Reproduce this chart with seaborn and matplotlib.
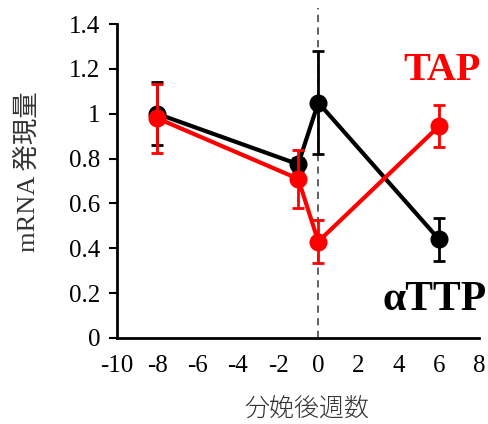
import matplotlib
matplotlib.use("Agg")
import matplotlib.pyplot as plt
import seaborn as sns
import pandas as pd

# weeks relative to calving
weeks = [-8, -1, 0, 6]

# aTTP (black)
ttp_mean = [1.00, 0.775, 1.05, 0.44]
ttp_err = [0.14, 0.03, 0.23, 0.095]

# TAP (red)
tap_mean = [0.98, 0.71, 0.43, 0.945]
tap_err = [0.155, 0.13, 0.095, 0.095]

xticks = [-10, -8, -6, -4, -2, 0, 2, 4, 6, 8]
yticks = [0, 0.2, 0.4, 0.6, 0.8, 1.0, 1.2, 1.4]
ytick_labels = ["0", "0.2", "0.4", "0.6", "0.8", "1", "1.2", "1.4"]

df = pd.DataFrame({
    "week": weeks * 2,
    "value": ttp_mean + tap_mean,
    "gene": ["aTTP"] * 4 + ["TAP"] * 4,
})

sns.set_theme(style="white")
plt.rcParams["font.family"] = ["Liberation Serif", "Noto Sans CJK JP"]

fig = plt.figure(figsize=(4.88, 4.24), dpi=100)
ax = fig.add_axes([0.24, 0.203, 0.742, 0.74])

ax.axvline(0, ymin=0, ymax=1.05, color="#555555", linestyle=(0, (4, 3)),
           linewidth=1.3, clip_on=False, zorder=1)

palette = {"aTTP": "black", "TAP": "#ff0000"}
sns.lineplot(data=df, x="week", y="value", hue="gene", palette=palette,
             marker="o", markersize=13, linewidth=3, markeredgewidth=0,
             legend=False, ax=ax, zorder=3)

ax.errorbar(weeks, ttp_mean, yerr=ttp_err, fmt="none", ecolor="black",
            elinewidth=2, capsize=4, capthick=2, zorder=2)
ax.errorbar(weeks, tap_mean, yerr=tap_err, fmt="none", ecolor="#ff0000",
            elinewidth=2, capsize=4, capthick=2, zorder=4)
# keep red line on top of black
for ln in ax.lines:
    if ln.get_color() in ("#ff0000", (1.0, 0.0, 0.0, 1.0)):
        ln.set_zorder(5)

ax.set_xlim(-10, 8)
ax.set_ylim(0, 1.4)
ax.set_xticks(xticks)
ax.set_xticklabels([str(t) for t in xticks])
ax.set_yticks(yticks)
ax.set_yticklabels(ytick_labels)
ax.tick_params(axis="y", direction="out", length=6, width=1.5, labelsize=18,
               left=True, pad=6, colors="black")
ax.tick_params(axis="x", length=0, labelsize=18, pad=12, colors="black")

for side in ["top", "right"]:
    ax.spines[side].set_visible(False)
for side in ["left", "bottom"]:
    ax.spines[side].set_color("black")
    ax.spines[side].set_linewidth(2)

ax.set_xlabel("分娩後週数", fontsize=18,
              family=["Noto Sans CJK JP"], fontweight="light", color="#333333")
ax.set_ylabel("mRNA 発現量", fontsize=19,
              family=["Liberation Serif", "Noto Sans CJK JP"], color="#333333")
ax.xaxis.set_label_coords(0.525, -0.183)
ax.yaxis.set_label_coords(-0.215, 0.53)

ax.text(8.05, 1.195, "TAP", color="#ff0000", fontsize=29, fontweight="bold",
        ha="right", va="center", family=["Liberation Serif"])
ax.text(8.38, 0.17, "αTTP", color="black", fontsize=30, fontweight="bold",
        ha="right", va="center", family=["Liberation Serif"])

fig.savefig("out.png", dpi=100)
